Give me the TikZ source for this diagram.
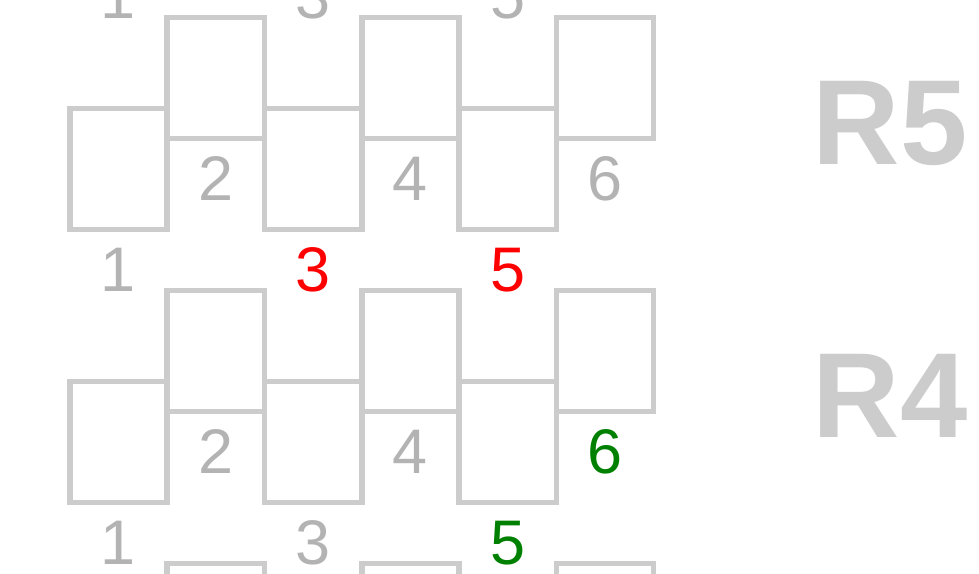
\documentclass[tikz,border=0pt]{standalone}
\usepackage{fontspec}
\setmainfont{Liberation Sans}
\usepackage{tikz}
\usepackage{xcolor}
\definecolor{boxgray}{HTML}{CCCCCC}
\definecolor{numgray}{HTML}{B3B3B3}
\definecolor{numgreen}{HTML}{008000}

\begin{document}
\begin{tikzpicture}[x=1pt,y=-1pt,
    cell/.style={draw=boxgray,line width=5.5pt,minimum width=97.3pt,minimum height=121pt,inner sep=0pt,outer sep=0pt},
    num/.style={anchor=base,inner sep=0pt,font=\fontsize{63}{63}\selectfont,text=numgray},
    rowlabel/.style={anchor=base,inner sep=0pt,font=\fontsize{121}{121}\selectfont\bfseries,text=boxgray}]
      \useasboundingbox (0,0) rectangle (979,573);
      \clip (0,0) rectangle (979,573);
      % row R6, only its lower labels show
      \foreach \k in {1,3,5}
        \node [num] (r6-n\k) at ({118.5+97.3*(\k-1)},18) {\k};
      % rows R5 and R4
      \foreach \r/\t in {5/0,4/273}{
        \foreach \k in {1,...,6}
          \node [cell] (r\r-c\k) at ({118.5+97.3*(\k-1)},{\t+(isodd(\k)?169:78)}) {};
        \node [rowlabel] (r\r) at (890,\t+164) {R\r};
      }
      \foreach \k/\c in {1/numgray,2/numgray,3/red,4/numgray,5/red,6/numgray}
        \node [num,text=\c] (r5-n\k) at ({118.5+97.3*(\k-1)},{isodd(\k)?291:200}) {\k};
      \foreach \k/\c in {1/numgray,2/numgray,3/numgray,4/numgray,5/numgreen,6/numgreen}
        \node [num,text=\c] (r4-n\k) at ({118.5+97.3*(\k-1)},{isodd(\k)?564:473}) {\k};
      % row R3, only the tops of its upper cells show
      \foreach \k in {2,4,6}
        \node [cell] (r3-c\k) at ({118.5+97.3*(\k-1)},624) {};
    \end{tikzpicture}
\end{document}
